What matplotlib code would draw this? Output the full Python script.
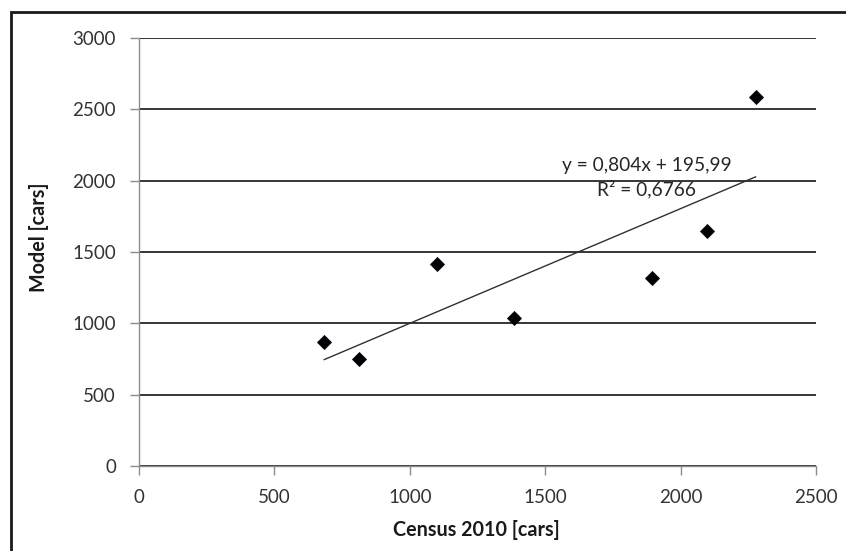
import matplotlib
matplotlib.use("Agg")
import matplotlib.pyplot as plt
from matplotlib.patches import Rectangle
import numpy as np

plt.rcParams['font.family'] = ['Lato', 'DejaVu Sans']

# Data
census = [684, 811, 1099, 1386, 1896, 2099, 2277]
model = [869, 748, 1414, 1040, 1318, 1647, 2584]
slope = 0.804
intercept = 195.99
r2_text = "0,6766"
x_ticks = [0, 500, 1000, 1500, 2000, 2500]
y_ticks = [0, 500, 1000, 1500, 2000, 2500, 3000]
x_label = "Census 2010 [cars]"
y_label = "Model [cars]"

W, H = 846, 551
fig = plt.figure(figsize=(W / 100, H / 100), dpi=100)
ax = fig.add_axes([139 / W, 1 - 466 / H, (816 - 139) / W, (466 - 38) / H])

# gridlines
ax.set_xlim(0, 2500)
ax.set_ylim(0, 3000)
ax.set_xticks(x_ticks)
ax.set_yticks(y_ticks)
ax.yaxis.grid(True, color='black', linewidth=1.1)
ax.set_axisbelow(True)

# points
ax.plot(census, model, linestyle='none', marker='D', markersize=7.3,
        color='black', markeredgecolor='#0a0a1a', markeredgewidth=0.6, zorder=3)

# trend line
xs = np.array([min(census), max(census)])
ax.plot(xs, slope * xs + intercept, color='#303030', linewidth=1.0, zorder=2)

eq = "y = {}x + {}\nR² = {}".format(str(slope).replace('.', ','),
                                    str(intercept).replace('.', ','), r2_text)
ax.text(0.750, 0.674, eq, transform=ax.transAxes, ha='center', va='center',
        multialignment='center', fontsize=13.8, color='#262626', linespacing=1.4)

# spines
for s in ['top', 'right']:
    ax.spines[s].set_visible(False)
for s in ['left', 'bottom']:
    ax.spines[s].set_color('#8c8c8c')
    ax.spines[s].set_linewidth(1.0)

ax.tick_params(axis='both', direction='out', length=6.5, width=1.0,
               color='#8c8c8c', labelsize=13.5, labelcolor='#333333', pad=10)

ax.set_xlabel(x_label, fontsize=14.2, fontweight='bold', color='#1a1a1a')
ax.set_ylabel(y_label, fontsize=14.2, fontweight='bold', color='#1a1a1a')
ax.xaxis.label.set_va('center')
ax.yaxis.label.set_va('center')
ax.xaxis.set_label_coords(0.498, (466 - 529.5) / 428)
ax.yaxis.set_label_coords((39 - 139) / 677, (466 - 237) / 428)

# figure border (top and left visible, right/bottom cut off)
fig.patches.append(Rectangle((11 / W, -0.1), 1.2, 1 - 11.5 / H + 0.1,
                             transform=fig.transFigure, fill=False,
                             edgecolor='#1a1a1a', linewidth=2.0))

fig.savefig("out.png", dpi=100)
